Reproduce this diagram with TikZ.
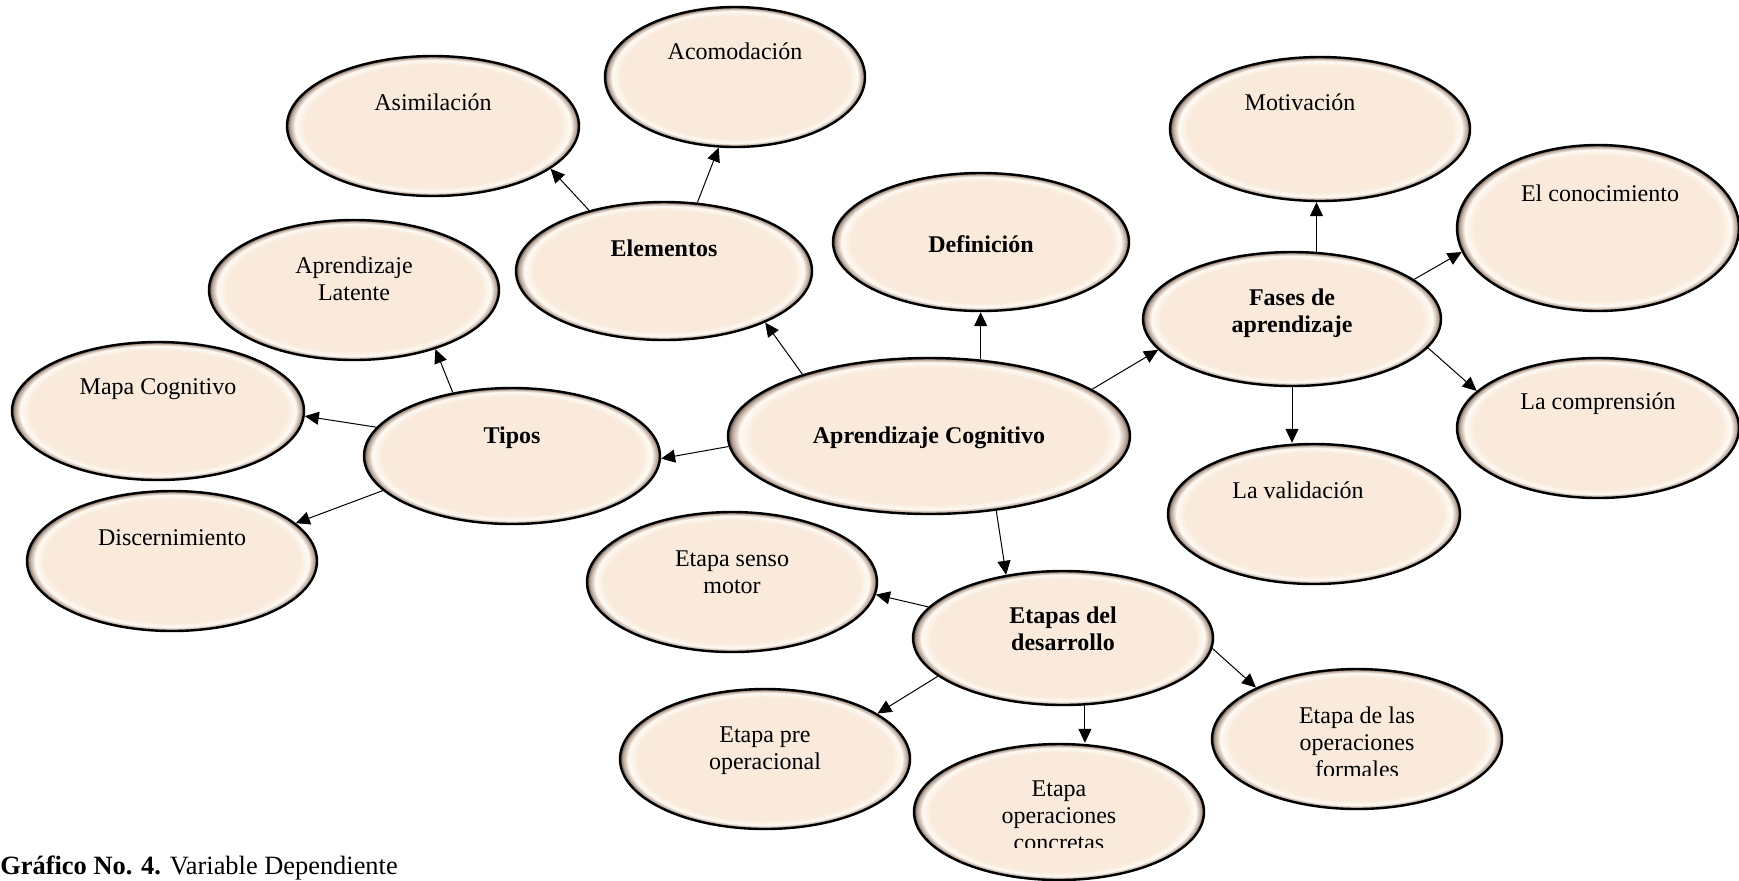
\documentclass[tikz,border=0pt]{standalone}
\usepackage{fontspec}
\setmainfont{Liberation Serif}
\usetikzlibrary{shapes.geometric,arrows.meta}
\definecolor{bubin}{RGB}{249,234,219}
\definecolor{bubhi}{RGB}{255,250,244}
\definecolor{bubrim}{RGB}{185,165,150}
\definecolor{bubdark}{RGB}{85,75,70}
\pgfdeclareradialshading{bubshade}{\pgfpoint{0bp}{0bp}}{color(0bp)=(bubin); color(22bp)=(bubin); color(23.6bp)=(bubhi); color(24.5bp)=(bubrim); color(25bp)=(bubdark); color(50bp)=(bubdark)}

\begin{document}
\begin{tikzpicture}[x=5pt,y=5pt]
    \tikzstyle{every node}+=[inner sep=0pt]
    \tikzstyle{bub}=[ellipse, draw=black, line width=1.2pt, shading=bubshade, minimum width=146pt, minimum height=69pt]
    \tikzstyle{lbl}=[anchor=base, align=center, font=\fontsize{12}{13.5}\selectfont]
    \tikzstyle{lblb}=[lbl, font=\fontsize{12}{13.5}\selectfont\bfseries]
    \tikzstyle{arr}=[black, line width=0.5pt, -{Triangle[length=7pt,width=6.5pt]}]
    \useasboundingbox (0,0) rectangle (173.9,-88);
    % bubbles
    \node [bub, minimum width=130pt, minimum height=70pt] (acom) at (73.5,-7.7) {};
    \node [bub, minimum height=70pt] (asim) at (43.3,-12.6) {};
    \node [bub, minimum width=148pt] (elem) at (66.4,-27.1) {};
    \node [bub, minimum width=148pt] (defi) at (98.1,-24.2) {};
    \node [bub, minimum width=150pt, minimum height=72pt] (moti) at (132,-12.9) {};
    \node [bub, minimum width=141pt, minimum height=83pt] (cono) at (159.8,-22.8) {};
    \node [bub, minimum width=149pt, minimum height=67pt] (fase) at (129.2,-31.9) {};
    \node [bub, minimum width=145pt, minimum height=70pt] (late) at (35.4,-29) {};
    \node [bub] (mapa) at (15.8,-41.1) {};
    \node [bub, minimum width=148pt, minimum height=68pt] (tipo) at (51.2,-45.6) {};
    \node [bub, minimum width=201pt, minimum height=78pt] (apco) at (92.9,-43.6) {};
    \node [bub, minimum width=141pt, minimum height=70pt] (comp) at (159.8,-42.8) {};
    \node [bub, minimum height=70pt] (vali) at (131.4,-51.4) {};
    \node [bub, minimum width=145pt, minimum height=70pt] (disc) at (17.2,-56.1) {};
    \node [bub, minimum width=145pt, minimum height=70pt] (sens) at (73.2,-58.2) {};
    \node [bub, minimum width=150pt, minimum height=67pt] (etap) at (106.3,-63.8) {};
    \node [bub, minimum width=145pt, minimum height=70pt] (pre) at (76.5,-75.9) {};
    \node [bub, minimum width=145pt, minimum height=68pt] (conc) at (105.9,-81.2) {};
    \node [bub, minimum width=145pt, minimum height=70pt] (form) at (135.7,-73.9) {};
    % texts (base = last line)
    \node [lbl] (acom-t) at (73.5,-5.9) {Acomodación};
    \node [lbl] (asim-t) at (43.3,-11) {Asimilación};
    \node [lblb] (elem-t) at (66.4,-25.6) {Elementos};
    \node [lblb] (defi-t) at (98.1,-25.2) {Definición};
    \node [lbl] (moti-t) at (130,-11) {Motivación};
    \node [lbl] (cono-t) at (160,-20.1) {El conocimiento};
    \node [lblb] (fase-t) at (129.2,-33.2) {Fases de\\aprendizaje};
    \node [lbl] (late-t) at (35.4,-30) {Aprendizaje\\Latente};
    \node [lbl] (mapa-t) at (15.8,-39.4) {Mapa Cognitivo};
    \node [lblb] (tipo-t) at (51.2,-44.3) {Tipos};
    \node [lblb] (apco-t) at (92.9,-44.3) {Aprendizaje Cognitivo};
    \node [lbl] (comp-t) at (159.8,-40.9) {La comprensión};
    \node [lbl] (vali-t) at (129.8,-49.8) {La validación};
    \node [lbl] (disc-t) at (17.2,-54.5) {Discernimiento};
    \node [lblb] (etap-t) at (106.3,-65) {Etapas del\\desarrollo};
    \node [lbl] (sens-t) at (73.2,-59.3) {Etapa senso\\motor};
    \node [lbl] (pre-t) at (76.5,-76.9) {Etapa pre\\operacional};
    \begin{scope}
    \clip (120,-68) rectangle (152,-77.5);
    \node [lbl] (form-t) at (135.7,-77.7) {Etapa de las\\operaciones\\formales};
    \end{scope}
    \begin{scope}
    \clip (90,-76) rectangle (122,-84.7);
    \node [lbl] (conc-t) at (105.9,-85) {Etapa\\operaciones\\concretas};
    \end{scope}
    \node [anchor=base west, font=\fontsize{13.2}{15}\selectfont] (capt) at (0,-87.4) {\textbf{Gráfico No. 4.} Variable Dependiente};
    % arrows
    \draw [arr] (apco.183) -- (tipo.-1);
    \draw [arr] (apco.154) -- (elem.-27);
    \draw [arr] (apco.56) -- (apco.56 |- defi.south);
    \draw [arr] (apco.16) -- (fase.193);
    \draw [arr] (apco.-48) -- (etap.132);
    \draw [arr] (elem.141) -- (asim.-20);
    \draw [arr] (elem.64) -- (acom.257);
    \draw [arr] (tipo.133) -- (late.-36);
    \draw [arr] (tipo.168) -- (mapa.-2);
    \draw [arr] (tipo.195) -- (disc.17);
    \draw [arr] (fase.70) -- (fase.70 |- moti.south);
    \draw [arr] (fase.18) -- (cono.190);
    \draw [arr] (fase.-12) -- (comp.163);
    \draw [arr] (fase.south) -- (fase.south |- vali.north);
    \draw [arr] (etap.167) -- (sens.-5);
    \draw [arr] (etap.197) -- (pre.22);
    \draw [arr] (etap.-72) -- (etap.-72 |- conc.north);
    \draw [arr] (etap.-4) -- (form.153);
\end{tikzpicture}
\end{document}
